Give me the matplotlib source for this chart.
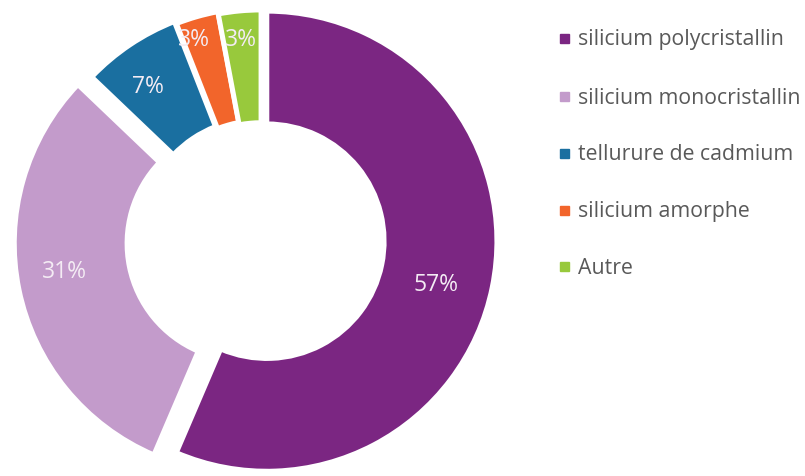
import matplotlib.pyplot as plt
import numpy as np

# parts de marche par technologie
labels = ['silicium polycristallin', 'silicium monocristallin', 'tellurure de cadmium',
          'silicium amorphe', 'Autre']
values = [57, 31, 7, 3, 3]
colors = ['#7B2682', '#C39BCB', '#1A6FA0', '#F2652B', '#98C93C']

# offsets of each ring segment, and radius / angle nudge of its % label
explode = [0.026, 0.074, 0.022, 0.01, 0.0]
label_r = [0.76, 0.79, 0.81, 0.91, 0.88]
label_dang = [-2.6, -2.8, 2.5, 2.5, 0.3]

W, H = 805, 477
fig = plt.figure(figsize=(W / 100, H / 100), dpi=100)

cx, cy, R = 261, 241, 230
half = 262
ax = fig.add_axes([(cx - half) / W, (H - cy - half) / H, 2 * half / W, 2 * half / H])

wedges, _ = ax.pie(values, colors=colors, startangle=90, counterclock=False,
                   radius=1.0, explode=explode,
                   wedgeprops=dict(width=0.49, edgecolor='white', linewidth=3.5))

# pie() resets the limits, so set them afterwards
ax.set_xlim(-half / R, half / R)
ax.set_ylim(-half / R, half / R)
ax.set_aspect('equal')
ax.axis('off')

for w, v, r, da in zip(wedges, values, label_r, label_dang):
    ang = np.deg2rad((w.theta1 + w.theta2) / 2 + da)
    x0, y0 = w.center
    ax.text(x0 + r * np.cos(ang), y0 + r * np.sin(ang), f'{v}%', ha='center', va='center',
            color='#F4ECF4', fontsize=16.5, family='Open Sans')

# legend drawn by hand, marker square + label
ys = [40, 98, 155, 212, 268]
for lab, col, y in zip(labels, colors, ys):
    fig.patches.append(plt.Rectangle((560 / W, (H - y - 4) / H), 9 / W, 9 / H,
                                     transform=fig.transFigure, color=col))
    fig.text(578 / W, (H - y) / H, lab, ha='left', va='center', color='#595959',
             fontsize=15.3, family='Open Sans')

fig.savefig('out.png', dpi=100)
